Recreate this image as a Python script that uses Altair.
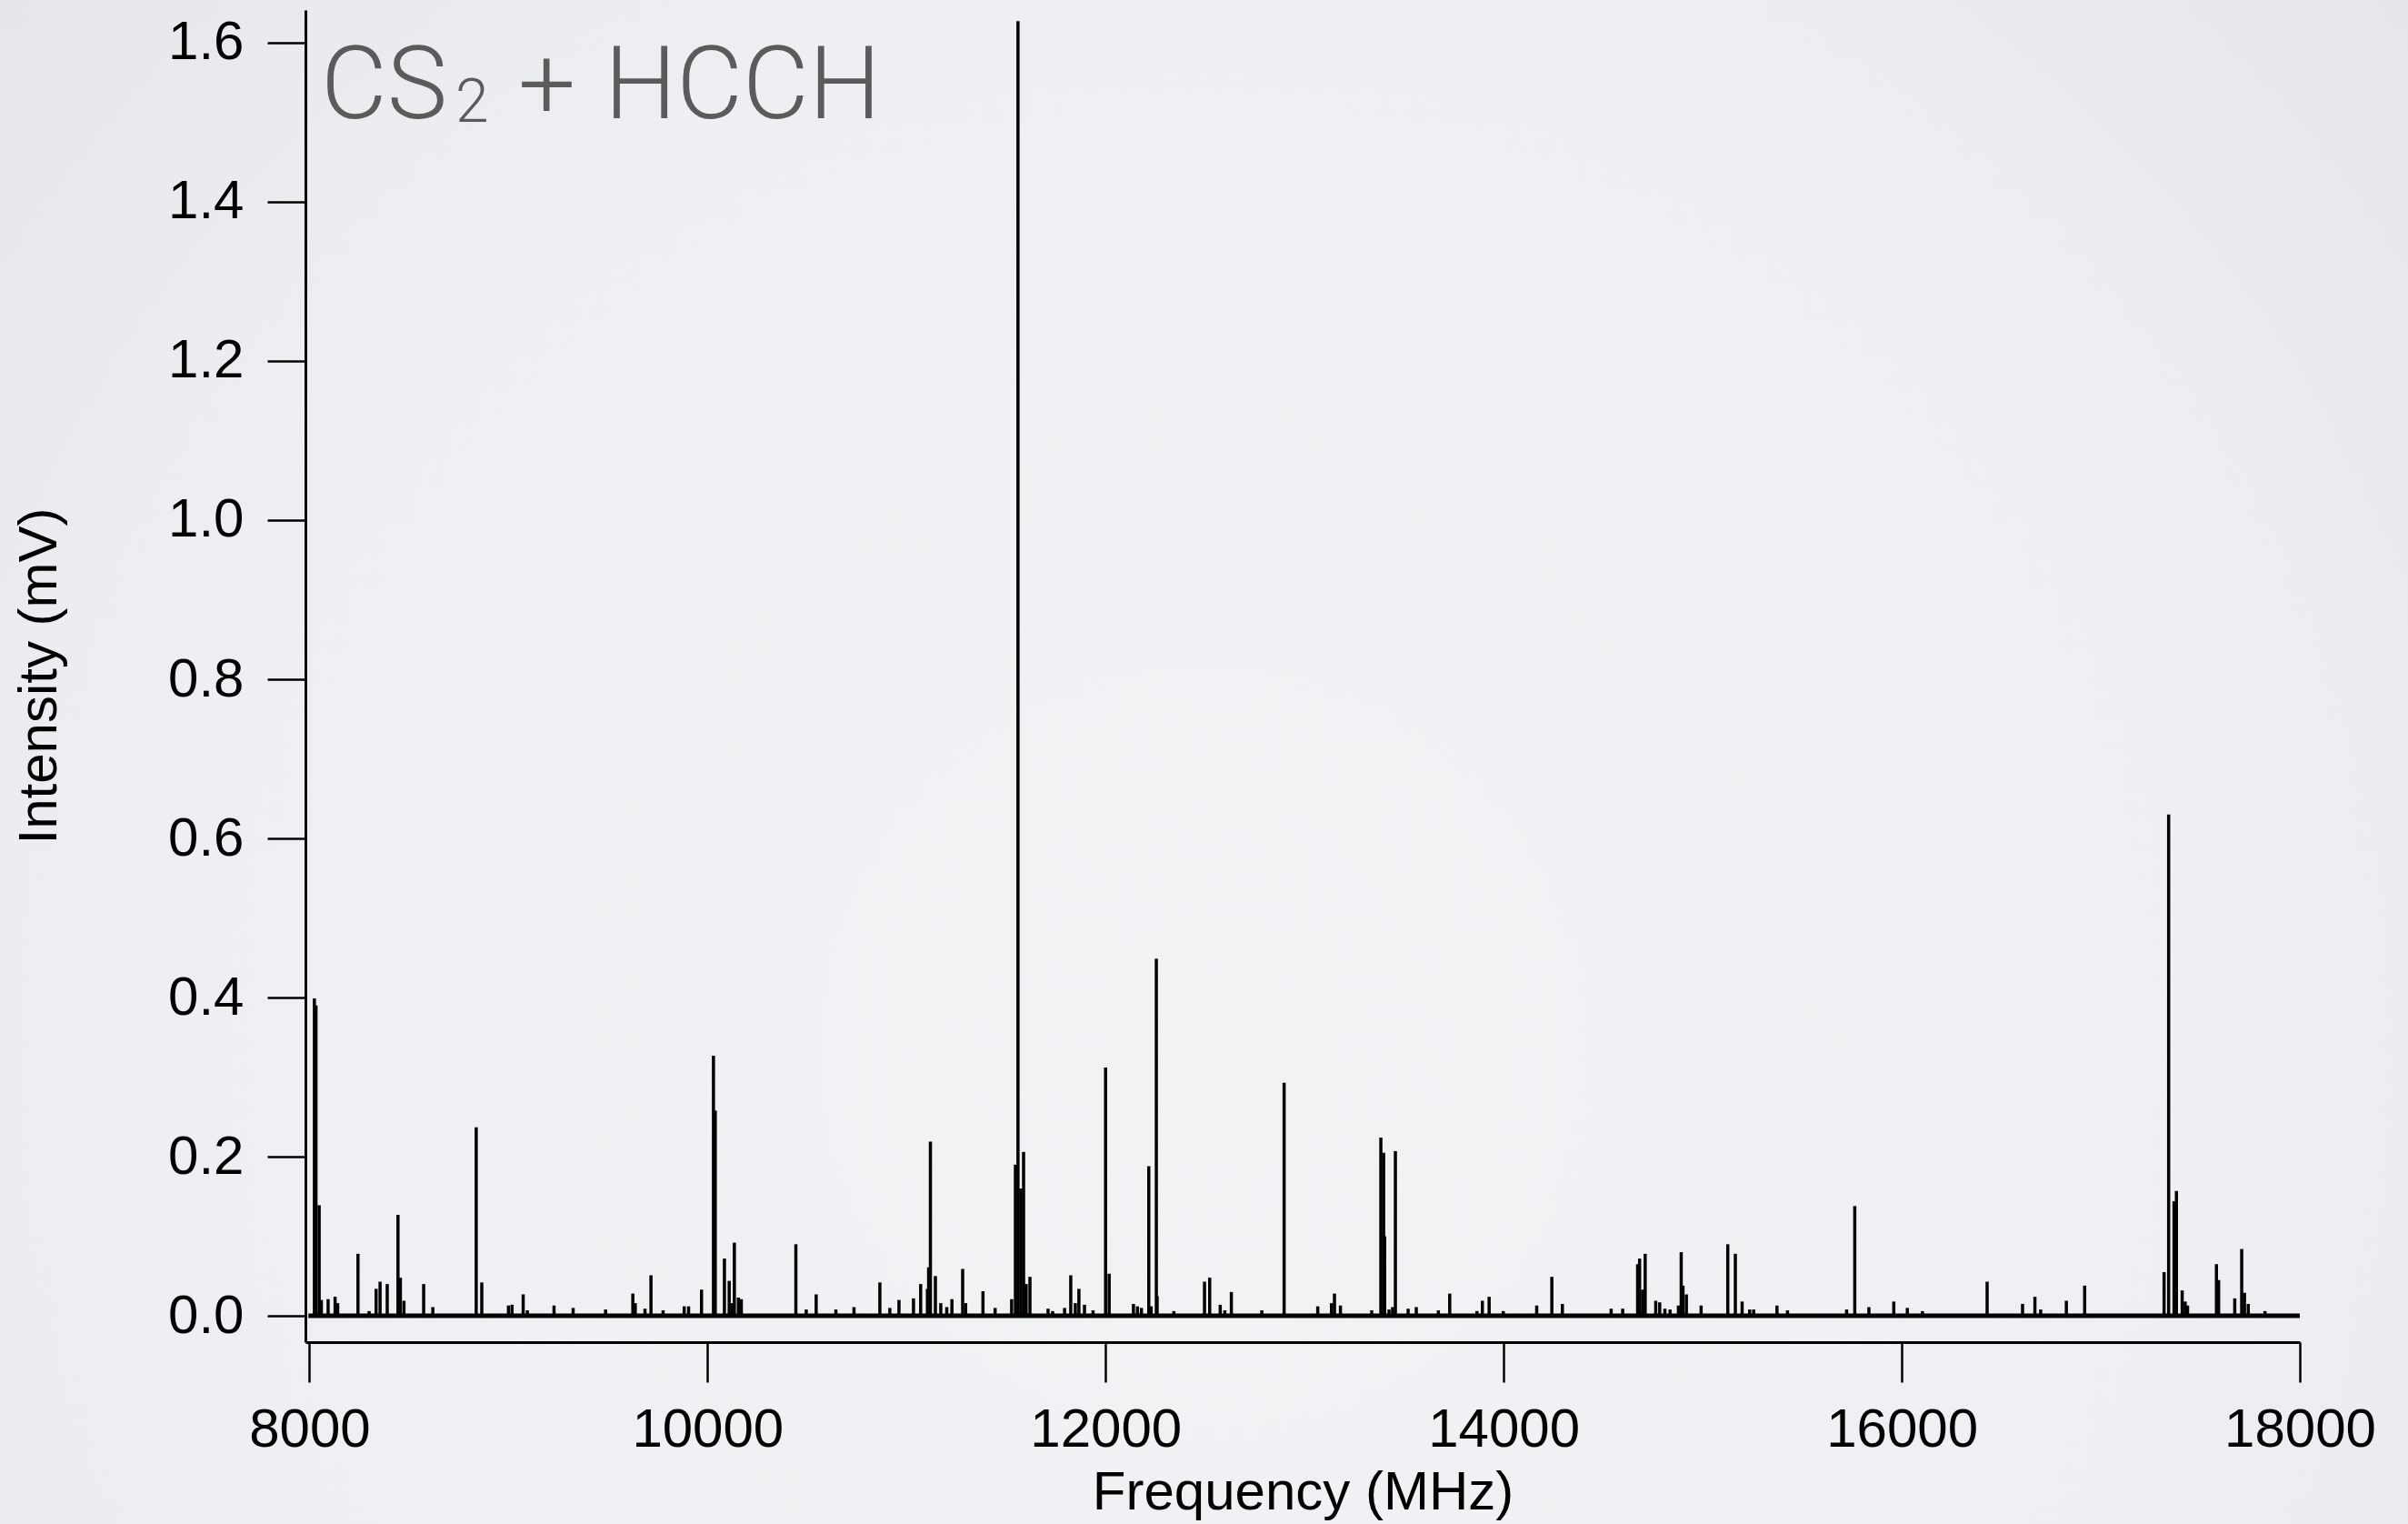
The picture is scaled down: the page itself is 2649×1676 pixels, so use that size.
import altair as alt
import pandas as pd

# ---------------- data ----------------
peak_freq = [
    8025, 8033, 8049, 8060, 8094, 8129, 8142, 8244, 8300, 8335, 8355, 8391, 8445, 8457, 8475,
    8574, 8620, 8838, 8866, 9000, 9018, 9074, 9095, 9229, 9325, 9488, 9625, 9637, 9686, 9716,
    9777, 9883, 9905, 9970, 10030, 10039, 10085, 10109, 10124, 10135, 10155, 10170, 10444,
    10496, 10546, 10645, 10736, 10866, 10916, 10962, 11035, 11071, 11105, 11111, 11120, 11145,
    11172, 11202, 11228, 11282, 11297, 11384, 11445, 11528, 11547, 11560, 11574, 11588, 11601,
    11620, 11711, 11734, 11794, 11825, 11848, 11866, 11894, 11937, 12000, 12018, 12140, 12160,
    12180, 12217, 12229, 12255, 12259, 12343, 12497, 12523, 12576, 12599, 12632, 12785, 12897,
    13066, 13135, 13150, 13180, 13337, 13383, 13397, 13402, 13424, 13442, 13456, 13520, 13561,
    13672, 13729, 13866, 13893, 13927, 13998, 14166, 14242, 14295, 14540, 14598, 14673, 14683,
    14698, 14711, 14764, 14784, 14810, 14836, 14878, 14892, 14901, 14918, 14992, 15126, 15164,
    15198, 15236, 15256, 15373, 15426, 15723, 15764, 15835, 15960, 16028, 16104, 16429, 16607,
    16669, 16698, 16827, 16919, 17318, 17341, 17368, 17380, 17409, 17424, 17436, 17581, 17592,
    17673, 17708, 17722, 17741, 17825,
]
peak_int = [
    0.399, 0.390, 0.139, 0.020, 0.021, 0.024, 0.016, 0.078, 0.006, 0.034, 0.043, 0.040, 0.127, 0.048, 0.019,
    0.040, 0.011, 0.237, 0.042, 0.013, 0.014, 0.027, 0.007, 0.013, 0.010, 0.008, 0.028, 0.016, 0.009, 0.051,
    0.007, 0.012, 0.012, 0.033, 0.327, 0.258, 0.072, 0.044, 0.016, 0.092, 0.023, 0.021, 0.090,
    0.008, 0.027, 0.008, 0.011, 0.042, 0.010, 0.020, 0.022, 0.040, 0.034, 0.061, 0.219, 0.050,
    0.016, 0.011, 0.021, 0.059, 0.016, 0.031, 0.010, 0.021, 0.190, 1.627, 0.160, 0.206, 0.040,
    0.049, 0.009, 0.006, 0.010, 0.051, 0.016, 0.034, 0.014, 0.007, 0.312, 0.053, 0.015, 0.012,
    0.010, 0.188, 0.012, 0.449, 0.025, 0.006, 0.043, 0.048, 0.014, 0.007, 0.030, 0.007, 0.293,
    0.012, 0.016, 0.028, 0.013, 0.007, 0.224, 0.205, 0.100, 0.008, 0.011, 0.207, 0.009, 0.011,
    0.007, 0.028, 0.006, 0.019, 0.024, 0.006, 0.013, 0.049, 0.015, 0.009, 0.009, 0.065, 0.072,
    0.033, 0.078, 0.019, 0.017, 0.009, 0.008, 0.013, 0.080, 0.038, 0.027, 0.013, 0.090, 0.078,
    0.018, 0.008, 0.008, 0.013, 0.007, 0.008, 0.138, 0.011, 0.018, 0.010, 0.006, 0.043, 0.015,
    0.024, 0.008, 0.019, 0.038, 0.055, 0.630, 0.144, 0.157, 0.032, 0.018, 0.013, 0.065, 0.045,
    0.022, 0.084, 0.029, 0.015, 0.006,
]
baseline_start = [7995]
baseline_end = [18000]
x_ticks = [8000, 10000, 12000, 14000, 16000, 18000]
y_ticks = [0.0, 0.2, 0.4, 0.6, 0.8, 1.0, 1.2, 1.4, 1.6]
title_parts = ["CS", "2", "+", "HCCH"]

# ---------------- layout ----------------
W, H = 2194, 1465
PAD = {"left": 336, "top": 11, "right": 119, "bottom": 200}

xscale = alt.Scale(domain=[7980, 18000], nice=False, zero=False)
yscale = alt.Scale(domain=[-0.033, 1.641], nice=False, zero=False)

label_font = "Liberation Sans, Arial, Helvetica, sans-serif"
title_font = "Liberation Sans, Arial, Helvetica, sans-serif"

x_axis = alt.Axis(
    values=x_ticks, format="d", title="Frequency (MHz)",
    tickSize=44, tickWidth=2.5, tickColor="black",
    domainWidth=3, domainColor="black",
    labelFont=label_font, labelFontSize=60, labelColor="black", labelLimit=1000,
    labelPadding=70, labelBaseline="alphabetic", labelFlush=False,
    titleFont=title_font, titleFontSize=60, titleFontWeight="normal", titleColor="black",
    titleBaseline="alphabetic", titleX=1097, titleY=183, titleAnchor="middle",
    grid=False, zindex=2,
)
y_axis = alt.Axis(
    values=y_ticks, format=".1f", title="Intensity (mV)",
    tickSize=42, tickWidth=2.5, tickColor="black",
    domainWidth=3, domainColor="black",
    labelFont=label_font, labelFontSize=60, labelColor="black", labelLimit=1000,
    labelPadding=26, labelFlush=False,
    titleFont=title_font, titleFontSize=60, titleFontWeight="normal", titleColor="black",
    titleAngle=270, titleBaseline="alphabetic", titleX=-275, titleY=732, titleAlign="center",
    grid=False, zindex=2,
)

peaks = pd.DataFrame({"f": peak_freq, "v": peak_int, "z": [0.0] * len(peak_freq)})
base = pd.DataFrame({"f": baseline_start, "f2": baseline_end, "v": [0.0]})
one = pd.DataFrame({"a": [0]})

background = alt.Chart(one).mark_rect(
    fill=alt.RadialGradient(
        gradient="radial",
        stops=[alt.GradientStop(offset=0, color="#f2f3f5"),
               alt.GradientStop(offset=0.55, color="#eeeff2"),
               alt.GradientStop(offset=1, color="#dfe2e6")],
        x1=0.5, y1=0.62, r1=0, x2=0.5, y2=0.62, r2=0.8,
    ),
    stroke=None,
).encode(
    x=alt.value(-PAD["left"]), x2=alt.value(W + PAD["right"]),
    y=alt.value(-PAD["top"]), y2=alt.value(H + PAD["bottom"]),
)

baseline = alt.Chart(base).mark_rule(color="black", strokeWidth=5).encode(
    x=alt.X("f:Q", scale=xscale, axis=x_axis),
    x2="f2:Q",
    y=alt.Y("v:Q", scale=yscale, axis=y_axis),
)

sticks = alt.Chart(peaks).mark_rule(color="black", strokeWidth=3.5).encode(
    x=alt.X("f:Q", scale=xscale, axis=x_axis),
    y=alt.Y("z:Q", scale=yscale, axis=y_axis),
    y2="v:Q",
)

tfont = "Roboto"
tcolor = "#5b5b5b"
def title_text(txt, size, x, y):
    return alt.Chart(one).mark_text(
        text=txt, font=tfont, fontWeight=300, fontSize=size, color=tcolor,
        align="left", baseline="alphabetic",
    ).encode(x=alt.value(x), y=alt.value(y))

t1 = title_text(title_parts[0], 112, 17, 119)
t2 = title_text(title_parts[1], 66, 165, 123)
t3 = title_text(title_parts[2], 112, 234, 119)
t4 = title_text(title_parts[3], 112, 329, 119)

chart = alt.layer(background, baseline, sticks, t1, t2, t3, t4).properties(
    width=W, height=H,
    autosize=alt.AutoSizeParams(type="none"),
    padding=PAD,
    background="#eceef1",
).configure_view(stroke=None)

chart.save("out.html", embed_options={"renderer": "svg", "actions": False})
